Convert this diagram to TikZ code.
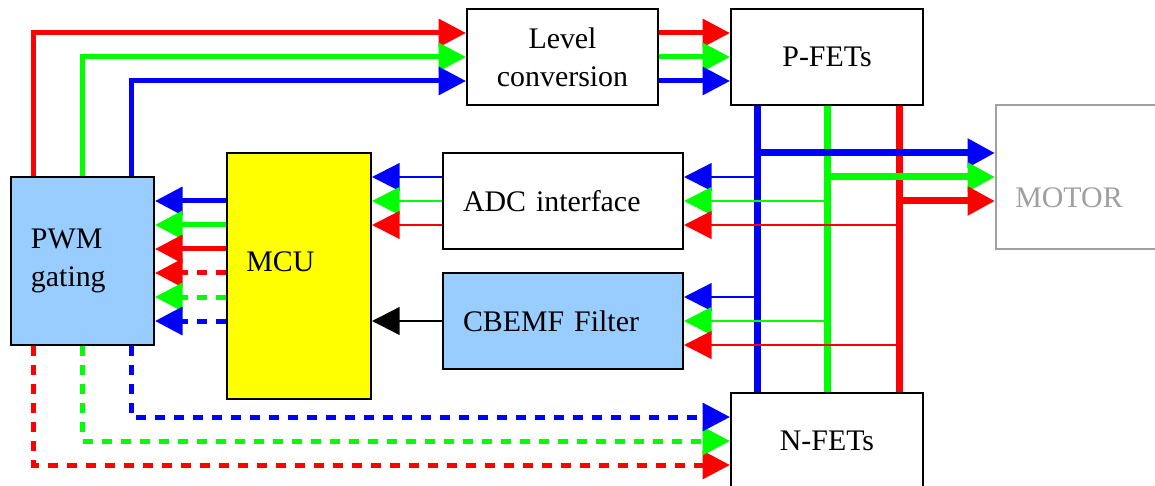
\documentclass[tikz,border=0pt]{standalone}
\usepackage{fontspec}
\setmainfont{Liberation Serif}
\definecolor{pwmblue}{RGB}{153,204,255}
\definecolor{mcuyellow}{RGB}{255,255,0}
\definecolor{motorgray}{RGB}{160,160,160}
\definecolor{sigred}{RGB}{255,0,0}
\definecolor{siggreen}{RGB}{0,255,0}
\definecolor{sigblue}{RGB}{0,0,255}
\usetikzlibrary{arrows.meta}

\tikzset{
  blktxt/.style={font=\fontsize{17}{21.5}\selectfont},
  blk/.style={draw=black, line width=0.4mm, fill=white, minimum height=19.2mm, blktxt, align=center},
  leftblk/.style={blk, align=left, inner xsep=4mm},
  arr/.style={-{Triangle[length=5.5mm,width=5.5mm]}},
  sig/.style={arr, line width=1mm},
  dsig/.style={sig, dash pattern=on 2mm off 1.8mm},
  bus/.style={line width=1.4mm},
  fb/.style={arr, line width=0.45mm},
}

\begin{document}
\begin{tikzpicture}[x=0.2mm, y=-0.2mm]
  \useasboundingbox (0,0) rectangle (1155,486);

  % blocks
  \node[leftblk, fill=pwmblue, text width=20.6mm, minimum height=33.6mm] (pwm) at (82.5,261) {PWM\\gating};
  \node[blk, fill=mcuyellow, minimum width=28.8mm, minimum height=49.2mm,
        label={[anchor=west, inner sep=0pt, xshift=4mm, yshift=2.8mm, blktxt]west:MCU}] (mcu) at (299,276) {};
  \node[blk, minimum width=38.2mm] (lvl) at (562.5,57) {Level\\conversion};
  \node[blk, minimum width=38.4mm] (pfet) at (827,57) {P-FETs};
  \node[leftblk, text width=40mm] (adc) at (563,201) {ADC interface};
  \node[leftblk, fill=pwmblue, text width=40mm] (cbemf) at (563,321) {CBEMF Filter};
  \node[blk, minimum width=38.4mm] (nfet) at (827,441) {N-FETs};
  \node[blk, draw=motorgray, line width=0.3mm, minimum width=38mm, minimum height=28.8mm, anchor=west,
        label={[anchor=west, inner sep=0pt, xshift=4mm, yshift=-4.2mm, blktxt, text=motorgray]west:MOTOR}] (motor) at (995,177) {};

  % PWM -> level conversion -> P-FETs
  \draw[sig, sigred] ([xshift=4.8mm]pwm.north west) |- ([yshift=4.8mm]lvl.west);
  \draw[sig, siggreen] (pwm.north) |- (lvl.west);
  \draw[sig, sigblue] ([xshift=-4.8mm]pwm.north east) |- ([yshift=-4.8mm]lvl.west);
  \draw[sig, sigred] ([yshift=4.8mm]lvl.east) -- ([yshift=4.8mm]pfet.west);
  \draw[sig, siggreen] (lvl.east) -- (pfet.west);
  \draw[sig, sigblue] ([yshift=-4.8mm]lvl.east) -- ([yshift=-4.8mm]pfet.west);

  % phase buses
  \coordinate (busB) at ([xshift=-14mm]pfet.south);
  \coordinate (busG) at (pfet.south);
  \coordinate (busR) at ([xshift=14.4mm]pfet.south);
  \draw[bus, sigblue] (busB) -- (busB |- nfet.north);
  \draw[bus, siggreen] (busG) -- (busG |- nfet.north);
  \draw[bus, sigred] (busR) -- (busR |- nfet.north);

  % buses -> motor
  \draw[bus, arr, sigblue] ([yshift=4.8mm]motor.west -| busB) -- ([yshift=4.8mm]motor.west);
  \draw[bus, arr, siggreen] (motor.west -| busG) -- (motor.west);
  \draw[bus, arr, sigred] ([yshift=-4.8mm]motor.west -| busR) -- ([yshift=-4.8mm]motor.west);

  % buses -> ADC and filter
  \draw[fb, sigblue] ([yshift=4.8mm]adc.east -| busB) -- ([yshift=4.8mm]adc.east);
  \draw[fb, siggreen] (adc.east -| busG) -- (adc.east);
  \draw[fb, sigred] ([yshift=-4.8mm]adc.east -| busR) -- ([yshift=-4.8mm]adc.east);
  \draw[fb, sigblue] ([yshift=4.8mm]cbemf.east -| busB) -- ([yshift=4.8mm]cbemf.east);
  \draw[fb, siggreen] (cbemf.east -| busG) -- (cbemf.east);
  \draw[fb, sigred] ([yshift=-4.8mm]cbemf.east -| busR) -- ([yshift=-4.8mm]cbemf.east);

  % ADC and filter -> MCU
  \draw[fb, sigblue] ([yshift=4.8mm]adc.west) -- ([yshift=4.8mm]adc.west -| mcu.east);
  \draw[fb, siggreen] (adc.west) -- (adc.west -| mcu.east);
  \draw[fb, sigred] ([yshift=-4.8mm]adc.west) -- ([yshift=-4.8mm]adc.west -| mcu.east);
  \draw[fb, black] (cbemf.west) -- (cbemf.west -| mcu.east);

  % MCU -> PWM gating
  \draw[sig, sigblue] ([yshift=12mm]pwm.east -| mcu.west) -- ([yshift=12mm]pwm.east);
  \draw[sig, siggreen] ([yshift=7.2mm]pwm.east -| mcu.west) -- ([yshift=7.2mm]pwm.east);
  \draw[sig, sigred] ([yshift=2.4mm]pwm.east -| mcu.west) -- ([yshift=2.4mm]pwm.east);
  \draw[dsig, sigred] ([yshift=-2.4mm]pwm.east -| mcu.west) -- ([yshift=-2.4mm]pwm.east);
  \draw[dsig, siggreen] ([yshift=-7.2mm]pwm.east -| mcu.west) -- ([yshift=-7.2mm]pwm.east);
  \draw[dsig, sigblue] ([yshift=-12mm]pwm.east -| mcu.west) -- ([yshift=-12mm]pwm.east);

  % PWM -> N-FETs
  \draw[dsig, sigred] ([xshift=4.8mm]pwm.south west) |- ([yshift=-4.8mm]nfet.west);
  \draw[dsig, siggreen] (pwm.south) |- (nfet.west);
  \draw[dsig, sigblue] ([xshift=-4.8mm]pwm.south east) |- ([yshift=4.8mm]nfet.west);
\end{tikzpicture}
\end{document}
